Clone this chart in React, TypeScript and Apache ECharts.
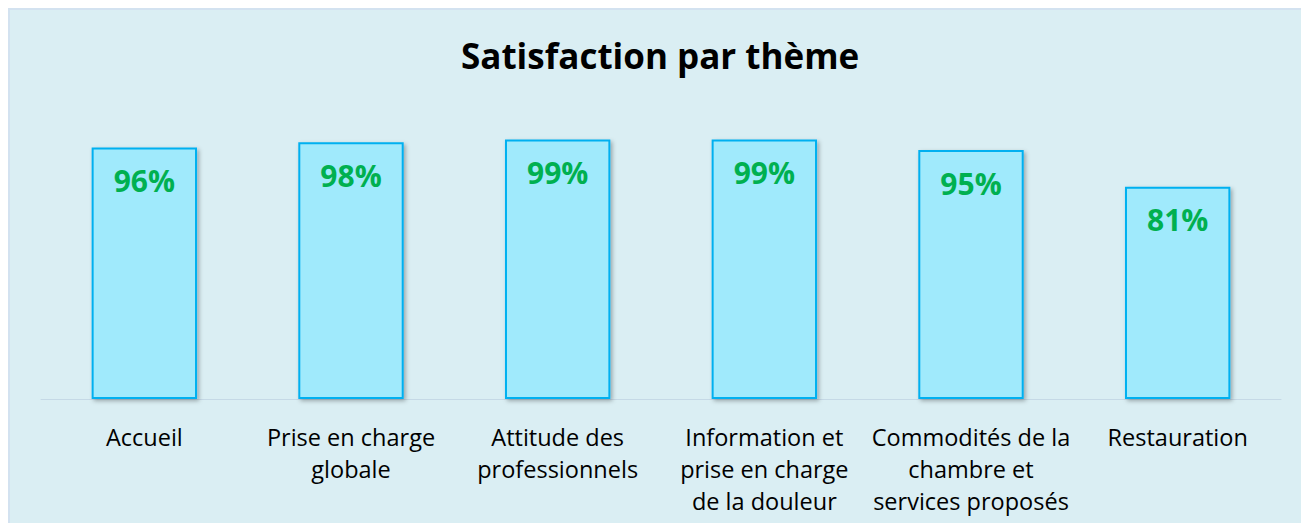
import React, { useEffect, useRef } from "react";
import * as echarts from "echarts";

const categories = [
  "Accueil",
  "Prise en charge\nglobale",
  "Attitude des\nprofessionnels",
  "Information et\nprise en charge\nde la douleur",
  "Commodités de la\nchambre et\nservices proposés",
  "Restauration",
];
const satisfaction = [96, 98, 99, 99, 95, 81];
const titleText = "Satisfaction par thème";

const FONT = "Open Sans";

export default function App() {
  const ref = useRef<HTMLDivElement>(null);
  useEffect(() => {
    document.documentElement.style.overflow = "hidden";
    document.body.style.overflow = "hidden";
    if (!ref.current) return;
    const chart = echarts.init(ref.current, null, { renderer: "svg" });
    chart.setOption({
      animation: false,
      backgroundColor: "#DAEEF3",
      title: {
        text: titleText,
        left: 446,
        top: 23,
        textStyle: {
          fontFamily: FONT,
          fontSize: 35,
          fontWeight: "bold",
          color: "#000000",
        },
      },
      grid: { left: 31, right: 20, top: 127, bottom: 124 },
      xAxis: {
        type: "category",
        data: categories,
        axisLine: { show: true, lineStyle: { color: "#C5D9E6", width: 1 } },
        axisTick: { show: false },
        axisLabel: {
          interval: 0,
          margin: 22,
          fontFamily: FONT,
          fontSize: 23.5,
          lineHeight: 32,
          color: "#000000",
        },
      },
      yAxis: {
        type: "value",
        min: 0,
        max: 100,
        show: false,
        splitLine: { show: false },
      },
      series: [
        {
          type: "bar",
          data: satisfaction,
          barCategoryGap: "49%",
          itemStyle: {
            color: "#A0EAFC",
            borderColor: "#00B0F0",
            borderWidth: 2,
            shadowColor: "rgba(0,0,0,0.3)",
            shadowBlur: 4,
            shadowOffsetX: 2,
            shadowOffsetY: 2,
          },
          label: {
            show: true,
            position: "insideTop",
            distance: 18,
            formatter: "{c}%",
            fontFamily: FONT,
            fontSize: 30,
            fontWeight: "bold",
            color: "#00B050",
          },
        },
      ],
    });
    return () => chart.dispose();
  }, []);
  return (
    <div
      ref={ref}
      style={{
        position: "fixed",
        left: 8,
        top: 8,
        width: 1293,
        height: 515,
        boxSizing: "border-box",
        borderTop: "2px solid #D3E2F0",
        borderLeft: "2px solid #D3E2F0",
      }}
    />
  );
}
